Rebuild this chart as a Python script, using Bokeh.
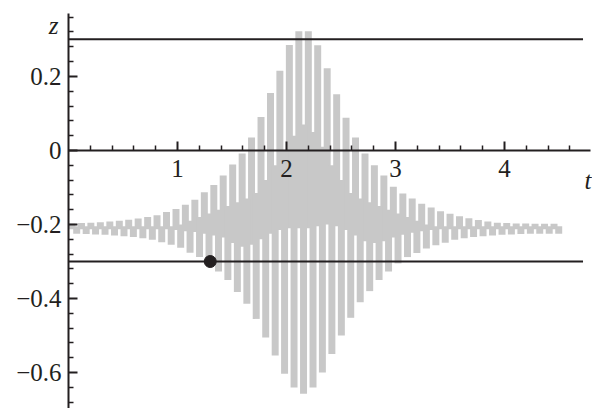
from bokeh.plotting import figure
from bokeh.models import Range1d, FixedTicker, CustomJSTickFormatter, Label
from bokeh.embed import file_html
from bokeh.resources import INLINE

# upward strokes of the oscillation (time, crest, base)
t_up = [0.032, 0.119, 0.205, 0.292, 0.379, 0.466, 0.552, 0.639, 0.726, 0.812,
        0.899, 0.986, 1.072, 1.159, 1.246, 1.333, 1.419, 1.506, 1.593, 1.679,
        1.766, 1.853, 1.939, 2.026, 2.113, 2.200, 2.286, 2.373, 2.460, 2.546,
        2.633, 2.720, 2.806, 2.893, 2.980, 3.067, 3.153, 3.240, 3.327, 3.413,
        3.500, 3.587, 3.673, 3.760, 3.847, 3.934, 4.020, 4.107, 4.194, 4.280,
        4.367, 4.454]
z_top = [-0.197, -0.196, -0.195, -0.194, -0.192, -0.190, -0.187, -0.184, -0.180, -0.175,
         -0.166, -0.158, -0.147, -0.133, -0.113, -0.093, -0.068, -0.038, -0.008, 0.035,
         0.090, 0.155, 0.215, 0.285, 0.322, 0.322, 0.284, 0.222, 0.152, 0.088,
         0.035, -0.008, -0.040, -0.068, -0.098, -0.116, -0.130, -0.144, -0.154, -0.164,
         -0.171, -0.178, -0.183, -0.188, -0.192, -0.195, -0.196, -0.197, -0.197, -0.198,
         -0.198, -0.198]
z_up_base = [-0.213, -0.213, -0.213, -0.213, -0.213, -0.213, -0.213, -0.213, -0.213, -0.213,
             -0.213, -0.215, -0.218, -0.220, -0.225, -0.230, -0.235, -0.250, -0.260, -0.255,
             -0.240, -0.225, -0.215, -0.210, -0.210, -0.210, -0.205, -0.200, -0.205, -0.215,
             -0.230, -0.245, -0.250, -0.245, -0.235, -0.228, -0.222, -0.218, -0.215, -0.213,
             -0.213, -0.213, -0.213, -0.213, -0.213, -0.213, -0.213, -0.213, -0.213, -0.213,
             -0.213, -0.213]

# downward strokes of the oscillation (time, trough, base)
t_dn = [0.075, 0.162, 0.248, 0.335, 0.422, 0.509, 0.595, 0.682, 0.769, 0.855,
        0.942, 1.029, 1.115, 1.202, 1.289, 1.376, 1.462, 1.549, 1.636, 1.722,
        1.809, 1.896, 1.982, 2.069, 2.156, 2.243, 2.329, 2.416, 2.503, 2.589,
        2.676, 2.763, 2.849, 2.936, 3.023, 3.110, 3.196, 3.283, 3.370, 3.456,
        3.543, 3.630, 3.716, 3.803, 3.890, 3.977, 4.063, 4.150, 4.237, 4.323,
        4.410, 4.497]
z_bot = [-0.225, -0.226, -0.227, -0.228, -0.230, -0.232, -0.234, -0.237, -0.241, -0.248,
         -0.255, -0.263, -0.276, -0.288, -0.303, -0.327, -0.350, -0.382, -0.414, -0.455,
         -0.505, -0.554, -0.603, -0.640, -0.657, -0.640, -0.600, -0.550, -0.500, -0.452,
         -0.410, -0.380, -0.350, -0.327, -0.305, -0.288, -0.277, -0.265, -0.256, -0.249,
         -0.241, -0.237, -0.234, -0.232, -0.230, -0.228, -0.227, -0.226, -0.225, -0.225,
         -0.225, -0.225]
z_dn_base = [-0.205, -0.205, -0.205, -0.205, -0.205, -0.205, -0.205, -0.205, -0.205, -0.205,
             -0.205, -0.200, -0.190, -0.180, -0.170, -0.160, -0.150, -0.140, -0.130, -0.115,
             -0.080, -0.040, 0.000, 0.040, 0.070, 0.050, 0.010, -0.040, -0.080, -0.115,
             -0.130, -0.140, -0.150, -0.160, -0.170, -0.180, -0.190, -0.200, -0.205, -0.205,
             -0.205, -0.205, -0.205, -0.205, -0.205, -0.205, -0.205, -0.205, -0.205, -0.205,
             -0.205, -0.205]

guide_z = [0.3, -0.3]
guide_t = [0.0, 4.72]
marker_t = [1.3]
marker_z = [-0.3]

x_major = [1, 2, 3, 4]
x_minor = [0.2, 0.4, 0.6, 0.8, 1.2, 1.4, 1.6, 1.8, 2.2, 2.4, 2.6, 2.8,
           3.2, 3.4, 3.6, 3.8, 4.2, 4.4, 4.6]
y_major = [-0.6, -0.4, -0.2, 0.0, 0.2]
y_minor = [-0.68, -0.64, -0.56, -0.52, -0.48, -0.44, -0.36, -0.32, -0.28, -0.24,
           -0.16, -0.12, -0.08, -0.04, 0.04, 0.08, 0.12, 0.16, 0.24, 0.28, 0.32, 0.36]

INK = "#231f20"
GRAY = "#c8c8c8"
FONT = "Liberation Serif"

p = figure(width=592, height=408, output_backend="svg", toolbar_location=None,
           x_range=Range1d(-0.624, 4.807), y_range=Range1d(-0.697, 0.405),
           min_border=0)
p.xgrid.visible = False
p.ygrid.visible = False
p.outline_line_color = None
p.background_fill_color = "white"
p.border_fill_color = "white"

bar_w = 0.064
p.vbar(x=t_up, top=z_top, bottom=z_up_base, width=bar_w, fill_color=GRAY, line_color=None)
p.vbar(x=t_dn, top=z_dn_base, bottom=z_bot, width=bar_w, fill_color=GRAY, line_color=None)

p.segment(x0=[guide_t[0]] * len(guide_z), x1=[guide_t[1]] * len(guide_z),
          y0=guide_z, y1=guide_z, line_color=INK, line_width=2)
p.scatter(x=marker_t, y=marker_z, size=12, fill_color=INK, line_color=INK)

# axes crossing at the origin
xa = p.xaxis[0]
xa.fixed_location = 0
xa.bounds = (0, 4.79)
xa.ticker = FixedTicker(ticks=x_major, minor_ticks=x_minor)
ya = p.yaxis[0]
ya.fixed_location = 0
ya.bounds = (-0.697, 0.37)
ya.ticker = FixedTicker(ticks=y_major, minor_ticks=y_minor)
ya.formatter = CustomJSTickFormatter(code="""
if (Math.abs(tick) < 1e-9) return "0";
if (tick < 0) return "\u2212" + (-tick).toFixed(1);
return tick.toFixed(1);
""")

for ax in (xa, ya):
    ax.axis_line_color = INK
    ax.axis_line_width = 2
    ax.major_tick_line_color = INK
    ax.major_tick_line_width = 2
    ax.minor_tick_line_color = INK
    ax.minor_tick_line_width = 1.5
    ax.major_tick_in = 9
    ax.major_tick_out = 0
    ax.minor_tick_in = 5
    ax.minor_tick_out = 0
    ax.major_label_text_font = FONT
    ax.major_label_text_font_size = "25px"
    ax.major_label_text_color = INK
xa.major_label_standoff = 10
ya.major_label_standoff = 7

p.add_layout(Label(x=-0.092, y=0.338, text="z", text_font=FONT, text_font_style="italic",
                   text_font_size="25px", text_color=INK, text_align="right",
                   text_baseline="alphabetic"))
p.add_layout(Label(x=4.798, y=-0.081, text="t", text_font=FONT, text_font_style="italic",
                   text_font_size="25px", text_color=INK, text_align="right",
                   text_baseline="alphabetic"))

open("out.html", "w").write(file_html(p, INLINE))
